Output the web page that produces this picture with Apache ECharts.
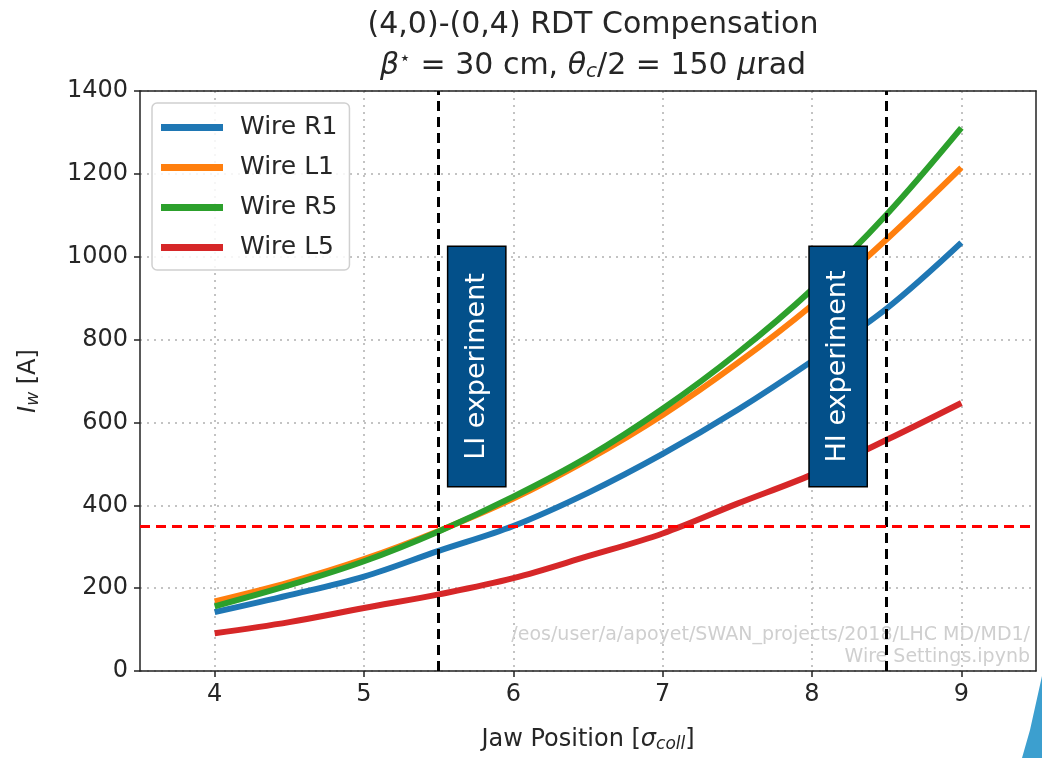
<!DOCTYPE html>
<html>
<head>
<meta charset="utf-8">
<script src="https://cdn.jsdelivr.net/npm/echarts@6/dist/echarts.min.js"></script>
<style>
  html, body { margin: 0; padding: 0; background: #fff; }
  #main { width: 1042px; height: 758px; }
</style>
</head>
<body>
<div id="main"></div>
<script>
// jaw position [sigma_coll]
var jawPos = [4, 4.5, 5, 5.5, 6, 6.5, 7, 7.5, 8, 8.5, 9];
// wire currents [A]
var wireR1 = [142, 183, 228, 290, 350, 430, 524, 630, 748, 875, 1034];
var wireL1 = [168, 214, 270, 338, 416, 510, 618, 743, 883, 1042, 1215];
var wireR5 = [156, 207, 265, 337, 421, 517, 633, 767, 921, 1102, 1311];
var wireL5 = [91, 118, 152, 185, 224, 277, 332, 404, 474, 558, 647];
var names = ['Wire R1', 'Wire L1', 'Wire R5', 'Wire L5'];
var xTicks = [4, 5, 6, 7, 8, 9];
var threshold = 350;
var experiments = [5.5, 8.5];

var colors = ['#1f77b4', '#ff7f0e', '#2ca02c', '#d62728'];
var textColor = '#262626';
var font = 'DejaVu Sans';

function pairs(ys) {
    return jawPos.map(function (x, i) { return [x, ys[i]]; });
}

function wireSeries(name, ys) {
    return {
        name: name,
        type: 'line',
        data: pairs(ys),
        smooth: 0.35,
        showSymbol: false,
        z: 2,
        lineStyle: { width: 6 }
    };
}

var gridLine = { show: true, lineStyle: { color: '#b0b0b0', type: [2, 5], width: 1.5 } };
var frameLine = { show: true, onZero: false, lineStyle: { color: '#222', width: 1.5 } };

var chart = echarts.init(document.getElementById('main'));
var option = {
    animation: false,
    color: colors,
    title: {
        left: 588,
        textAlign: 'center',
        top: 0,
        text: '(4,0)-(0,4) RDT Compensation\n{i|β}{sup|⋆} = 30 cm, {i|θ}{sub|c}/2 = 150 {i|μ}rad',
        textStyle: {
            fontFamily: font,
            fontWeight: 'normal',
            fontSize: 30,
            color: textColor,
            lineHeight: 41,
            rich: {
                i: { fontFamily: font, fontStyle: 'italic', fontSize: 30, color: textColor },
                sup: { fontFamily: font, fontSize: 19, color: textColor, padding: [0, 0, 14, 0] },
                sub: { fontFamily: font, fontStyle: 'italic', fontSize: 20, color: textColor, padding: [10, 0, 0, 0] }
            }
        }
    },
    legend: {
        orient: 'vertical',
        left: 152,
        top: 103,
        icon: 'rect',
        itemWidth: 62,
        itemHeight: 7,
        itemGap: 15,
        padding: [12, 12, 10, 9],
        backgroundColor: 'rgba(255,255,255,0.85)',
        borderColor: '#d0d0d0',
        borderWidth: 1.5,
        borderRadius: 5,
        data: names,
        textStyle: {
            fontFamily: font,
            fontSize: 25,
            color: textColor,
            padding: [0, 0, 0, 12]
        }
    },
    grid: {
        left: 140,
        right: 6,
        top: 91,
        bottom: 85
    },
    xAxis: [{
        type: 'value',
        min: 3.5,
        max: 9.5,
        name: 'Jaw Position [{i|σ}{sub|coll}]',
        nameLocation: 'middle',
        nameGap: 55,
        nameTextStyle: {
            fontFamily: font,
            fontSize: 24,
            color: textColor,
            rich: {
                i: { fontFamily: font, fontStyle: 'italic', fontSize: 24, color: textColor },
                sub: { fontFamily: font, fontStyle: 'italic', fontSize: 17, color: textColor, padding: [10, 0, 0, 0] }
            }
        },
        axisLine: frameLine,
        axisTick: { show: true, customValues: xTicks, length: 6, lineStyle: { color: '#222', width: 1.5 } },
        axisLabel: {
            customValues: xTicks,
            margin: 12,
            fontFamily: font,
            fontSize: 24,
            color: textColor
        },
        splitLine: gridLine
    }, {
        // top frame
        type: 'value',
        position: 'top',
        min: 3.5,
        max: 9.5,
        axisLine: frameLine,
        axisTick: { show: false },
        axisLabel: { show: false },
        splitLine: { show: false }
    }],
    yAxis: [{
        type: 'value',
        min: 0,
        max: 1400,
        interval: 200,
        name: '{i|I}{sub|w} [A]',
        nameLocation: 'middle',
        nameGap: 98,
        nameRotate: 90,
        nameTextStyle: {
            fontFamily: font,
            fontSize: 24,
            color: textColor,
            rich: {
                i: { fontFamily: font, fontStyle: 'italic', fontSize: 24, color: textColor },
                sub: { fontFamily: font, fontStyle: 'italic', fontSize: 17, color: textColor, padding: [10, 0, 0, 0] }
            }
        },
        axisLine: frameLine,
        axisTick: { show: true, length: 6, lineStyle: { color: '#222', width: 1.5 } },
        axisLabel: {
            margin: 12,
            fontFamily: font,
            fontSize: 24,
            color: textColor,
            formatter: function (v) { return String(v); }
        },
        splitLine: gridLine
    }, {
        // right frame
        type: 'value',
        position: 'right',
        min: 0,
        max: 1400,
        interval: 200,
        axisLine: frameLine,
        axisTick: { show: false },
        axisLabel: { show: false },
        splitLine: { show: false }
    }],
    series: [
        wireSeries(names[0], wireR1),
        wireSeries(names[1], wireL1),
        wireSeries(names[2], wireR5),
        wireSeries(names[3], wireL5),
        {
            name: 'marks',
            type: 'line',
            data: [],
            zlevel: 1,
            z: 10,
            markLine: {
                silent: true,
                zlevel: 1,
                z: 12,
                symbol: 'none',
                label: { show: false },
                data: [
                    { xAxis: experiments[0], lineStyle: { color: '#000', type: [10, 6], width: 3 } },
                    { xAxis: experiments[1], lineStyle: { color: '#000', type: [10, 6], width: 3 } },
                    { yAxis: threshold, lineStyle: { color: '#ff0000', type: [10, 6], width: 3 } }
                ]
            },
            markArea: {
                silent: true,
                zlevel: 1,
                z: 11,
                itemStyle: { color: '#03508a', borderColor: '#000', borderWidth: 1.5, opacity: 1 },
                label: {
                    show: true,
                    position: 'inside',
                    rotate: 90,
                    color: '#fff',
                    fontFamily: font,
                    fontSize: 27
                },
                data: [
                    [{ name: 'LI experiment', coord: [5.56, 1025] }, { coord: [5.95, 445] }],
                    [{ name: 'HI experiment', coord: [7.98, 1025] }, { coord: [8.37, 445] }]
                ]
            }
        }
    ],
    graphic: [
        {
            // notebook path watermark, sits under the dashed marker lines
            type: 'text',
            x: 1030,
            y: 624,
            z: 10,
            zlevel: 0,
            style: {
                text: '/eos/user/a/apoyet/SWAN_projects/2018/LHC MD/MD1/\nWire Settings.ipynb',
                align: 'right',
                fill: '#cfcfcf',
                font: '19px "DejaVu Sans"',
                lineHeight: 22
            }
        },
        {
            type: 'polygon',
            z: 10,
            zlevel: 2,
            shape: { points: [[1042, 676], [1042, 758], [1022, 758], [1030, 730]] },
            style: { fill: '#3c9fcf' }
        }
    ]
};
chart.setOption(option);
</script>
</body>
</html>
